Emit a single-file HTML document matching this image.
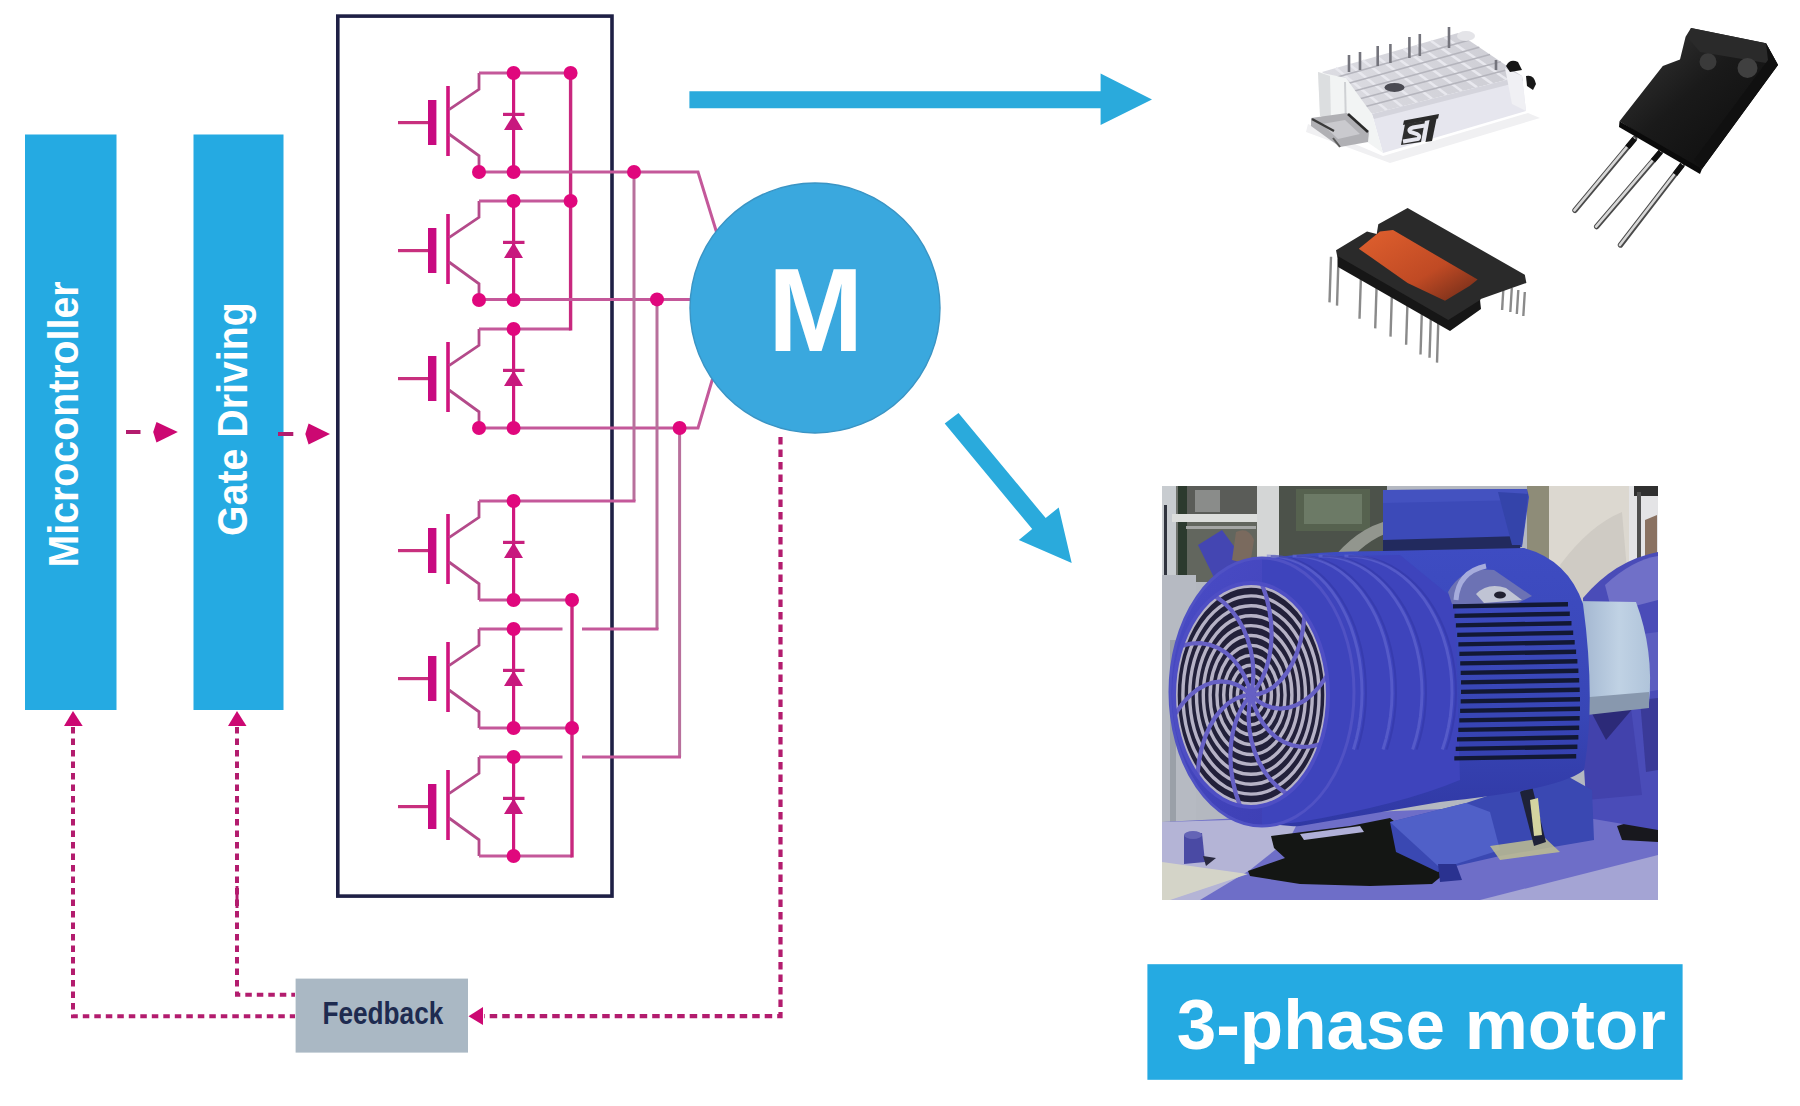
<!DOCTYPE html>
<html><head><meta charset="utf-8">
<style>
html,body{margin:0;padding:0;background:#fff;}
body{width:1800px;height:1106px;overflow:hidden;position:relative;font-family:"Liberation Sans",sans-serif;}
svg{position:absolute;left:0;top:0;}
</style></head><body>
<svg width="1800" height="1106" viewBox="0 0 1800 1106">
<defs>
</defs>
<!-- blue boxes -->
<rect x="25" y="134.5" width="91.5" height="575.5" fill="#25aae2"/>
<rect x="193.5" y="134.5" width="90" height="575.5" fill="#25aae2"/>
<text transform="translate(77.5,567.5) rotate(-90) scale(0.925,1)" font-family="Liberation Sans" font-weight="bold" font-size="42.5" fill="#fff">Microcontroller</text>
<text transform="translate(247,536) rotate(-90) scale(0.925,1)" font-family="Liberation Sans" font-weight="bold" font-size="42.5" fill="#fff">Gate Driving</text>
<!-- dashed arrows -->
<line x1="126" y1="432" x2="140.5" y2="432" stroke="#b31c6e" stroke-width="4"/>
<polygon points="156.5,421.9 177.8,432 156.5,442.4 153.2,432" fill="#cc0872"/>
<line x1="278" y1="434" x2="293.3" y2="434" stroke="#b31c6e" stroke-width="4"/>
<polygon points="308.6,423.6 330,434 308.6,444.5 305.3,434" fill="#cc0872"/>
<!-- box -->
<rect x="337.8" y="16.1" width="274.2" height="880" fill="none" stroke="#1e2045" stroke-width="3.6"/>
<line x1="398" y1="122.6" x2="430" y2="122.6" stroke="#c8307e" stroke-width="3.2"/>
<rect x="428" y="100" width="8.4" height="45" fill="#c80a80"/>
<line x1="448" y1="86" x2="448" y2="156" stroke="#d0147e" stroke-width="3.6"/>
<polyline points="449,109.7 479,89.3 479,73" fill="none" stroke="#b44a8a" stroke-width="2.8"/>
<polyline points="449,134 479,155.8 479,172" fill="none" stroke="#b44a8a" stroke-width="2.8"/>
<line x1="513.6" y1="73" x2="513.6" y2="172" stroke="#d0187e" stroke-width="3.2"/>
<line x1="503" y1="114.4" x2="524.5" y2="114.4" stroke="#c8207e" stroke-width="3.2"/>
<polygon points="513.6,114.4 504,130 523,130" fill="#c8187e"/>
<line x1="398" y1="250.6" x2="430" y2="250.6" stroke="#c8307e" stroke-width="3.2"/>
<rect x="428" y="228" width="8.4" height="45" fill="#c80a80"/>
<line x1="448" y1="214" x2="448" y2="284" stroke="#d0147e" stroke-width="3.6"/>
<polyline points="449,237.7 479,217.3 479,201" fill="none" stroke="#b44a8a" stroke-width="2.8"/>
<polyline points="449,262 479,283.8 479,300" fill="none" stroke="#b44a8a" stroke-width="2.8"/>
<line x1="513.6" y1="201" x2="513.6" y2="300" stroke="#d0187e" stroke-width="3.2"/>
<line x1="503" y1="242.4" x2="524.5" y2="242.4" stroke="#c8207e" stroke-width="3.2"/>
<polygon points="513.6,242.4 504,258 523,258" fill="#c8187e"/>
<line x1="398" y1="378.6" x2="430" y2="378.6" stroke="#c8307e" stroke-width="3.2"/>
<rect x="428" y="356" width="8.4" height="45" fill="#c80a80"/>
<line x1="448" y1="342" x2="448" y2="412" stroke="#d0147e" stroke-width="3.6"/>
<polyline points="449,365.7 479,345.3 479,329" fill="none" stroke="#b44a8a" stroke-width="2.8"/>
<polyline points="449,390 479,411.8 479,428" fill="none" stroke="#b44a8a" stroke-width="2.8"/>
<line x1="513.6" y1="329" x2="513.6" y2="428" stroke="#d0187e" stroke-width="3.2"/>
<line x1="503" y1="370.4" x2="524.5" y2="370.4" stroke="#c8207e" stroke-width="3.2"/>
<polygon points="513.6,370.4 504,386 523,386" fill="#c8187e"/>
<line x1="398" y1="550.6" x2="430" y2="550.6" stroke="#c8307e" stroke-width="3.2"/>
<rect x="428" y="528" width="8.4" height="45" fill="#c80a80"/>
<line x1="448" y1="514" x2="448" y2="584" stroke="#d0147e" stroke-width="3.6"/>
<polyline points="449,537.7 479,517.3 479,501" fill="none" stroke="#b44a8a" stroke-width="2.8"/>
<polyline points="449,562 479,583.8 479,600" fill="none" stroke="#b44a8a" stroke-width="2.8"/>
<line x1="513.6" y1="501" x2="513.6" y2="600" stroke="#d0187e" stroke-width="3.2"/>
<line x1="503" y1="542.4" x2="524.5" y2="542.4" stroke="#c8207e" stroke-width="3.2"/>
<polygon points="513.6,542.4 504,558 523,558" fill="#c8187e"/>
<line x1="398" y1="678.6" x2="430" y2="678.6" stroke="#c8307e" stroke-width="3.2"/>
<rect x="428" y="656" width="8.4" height="45" fill="#c80a80"/>
<line x1="448" y1="642" x2="448" y2="712" stroke="#d0147e" stroke-width="3.6"/>
<polyline points="449,665.7 479,645.3 479,629" fill="none" stroke="#b44a8a" stroke-width="2.8"/>
<polyline points="449,690 479,711.8 479,728" fill="none" stroke="#b44a8a" stroke-width="2.8"/>
<line x1="513.6" y1="629" x2="513.6" y2="728" stroke="#d0187e" stroke-width="3.2"/>
<line x1="503" y1="670.4" x2="524.5" y2="670.4" stroke="#c8207e" stroke-width="3.2"/>
<polygon points="513.6,670.4 504,686 523,686" fill="#c8187e"/>
<line x1="398" y1="806.6" x2="430" y2="806.6" stroke="#c8307e" stroke-width="3.2"/>
<rect x="428" y="784" width="8.4" height="45" fill="#c80a80"/>
<line x1="448" y1="770" x2="448" y2="840" stroke="#d0147e" stroke-width="3.6"/>
<polyline points="449,793.7 479,773.3 479,757" fill="none" stroke="#b44a8a" stroke-width="2.8"/>
<polyline points="449,818 479,839.8 479,856" fill="none" stroke="#b44a8a" stroke-width="2.8"/>
<line x1="513.6" y1="757" x2="513.6" y2="856" stroke="#d0187e" stroke-width="3.2"/>
<line x1="503" y1="798.4" x2="524.5" y2="798.4" stroke="#c8207e" stroke-width="3.2"/>
<polygon points="513.6,798.4 504,814 523,814" fill="#c8187e"/>
<line x1="479" y1="73" x2="570.6" y2="73" stroke="#c4589a" stroke-width="3"/>
<line x1="479" y1="201" x2="570.6" y2="201" stroke="#c4589a" stroke-width="3"/>
<line x1="479" y1="329" x2="570.6" y2="329" stroke="#c4589a" stroke-width="3"/>
<line x1="570.6" y1="73" x2="570.6" y2="330.5" stroke="#c8287e" stroke-width="3.4"/>
<polyline points="479,172 698,172 716.5,232" fill="none" stroke="#c4589a" stroke-width="3" stroke-linejoin="miter"/>
<line x1="479" y1="299.4" x2="700" y2="299.4" stroke="#c4589a" stroke-width="3"/>
<polyline points="479,428 698,428 712.5,379" fill="none" stroke="#c4589a" stroke-width="3" stroke-linejoin="miter"/>
<line x1="634" y1="172" x2="634" y2="501" stroke="#b8709c" stroke-width="3"/>
<line x1="479" y1="501" x2="635.5" y2="501" stroke="#c4589a" stroke-width="3"/>
<line x1="657" y1="299.4" x2="657" y2="629" stroke="#b8709c" stroke-width="3"/>
<line x1="582" y1="629" x2="658.5" y2="629" stroke="#c4589a" stroke-width="3"/>
<line x1="479" y1="629" x2="562.5" y2="629" stroke="#c4589a" stroke-width="3"/>
<line x1="679.6" y1="428" x2="679.6" y2="757" stroke="#b8709c" stroke-width="3"/>
<line x1="582" y1="757" x2="681" y2="757" stroke="#c4589a" stroke-width="3"/>
<line x1="479" y1="757" x2="562.5" y2="757" stroke="#c4589a" stroke-width="3"/>
<line x1="479" y1="600" x2="572" y2="600" stroke="#c4589a" stroke-width="3"/>
<line x1="479" y1="728" x2="572" y2="728" stroke="#c4589a" stroke-width="3"/>
<line x1="479" y1="856" x2="572" y2="856" stroke="#c4589a" stroke-width="3"/>
<line x1="572" y1="600" x2="572" y2="857.5" stroke="#c8287e" stroke-width="3.4"/>
<circle cx="513.6" cy="73" r="7" fill="#e0077d"/>
<circle cx="513.6" cy="172" r="7" fill="#e0077d"/>
<circle cx="513.6" cy="201" r="7" fill="#e0077d"/>
<circle cx="513.6" cy="300" r="7" fill="#e0077d"/>
<circle cx="513.6" cy="329" r="7" fill="#e0077d"/>
<circle cx="513.6" cy="428" r="7" fill="#e0077d"/>
<circle cx="513.6" cy="501" r="7" fill="#e0077d"/>
<circle cx="513.6" cy="600" r="7" fill="#e0077d"/>
<circle cx="513.6" cy="629" r="7" fill="#e0077d"/>
<circle cx="513.6" cy="728" r="7" fill="#e0077d"/>
<circle cx="513.6" cy="757" r="7" fill="#e0077d"/>
<circle cx="513.6" cy="856" r="7" fill="#e0077d"/>
<circle cx="479" cy="172" r="7" fill="#e0077d"/>
<circle cx="479" cy="300" r="7" fill="#e0077d"/>
<circle cx="479" cy="428" r="7" fill="#e0077d"/>
<circle cx="570.6" cy="73" r="7" fill="#e0077d"/>
<circle cx="570.6" cy="201" r="7" fill="#e0077d"/>
<circle cx="634" cy="172" r="7" fill="#e0077d"/>
<circle cx="657" cy="299.4" r="7" fill="#e0077d"/>
<circle cx="679.6" cy="428" r="7" fill="#e0077d"/>
<circle cx="572" cy="600" r="7" fill="#e0077d"/>
<circle cx="572" cy="728" r="7" fill="#e0077d"/>
<!-- motor circle -->
<circle cx="815" cy="308" r="125" fill="#3aa8de" stroke="#3a94c4" stroke-width="1.4"/>
<text transform="translate(815.7,351) scale(0.965,1)" text-anchor="middle" font-family="Liberation Sans" font-weight="bold" font-size="118.6" fill="#fff">M</text>
<!-- blue arrows -->
<polygon points="689.4,91.2 1100.6,91.2 1100.6,73.6 1152,99.5 1100.6,125 1100.6,108.2 689.4,108.2" fill="#2aaadc"/>
<polygon points="958.5,413 944.7,423.6 1032.2,529.1 1018.8,540 1071.7,562.9 1058.7,507.5 1045.7,518.1" fill="#2aaadc"/>
<!-- feedback -->
<path d="M780.5,437 V1016.2 H484" fill="none" stroke="#b31c6e" stroke-width="4.2" stroke-dasharray="7.5 5"/>
<polygon points="468.5,1016.2 483,1007 483,1025" fill="#cc0872"/>
<path d="M73,727 V1016.2 H295" fill="none" stroke="#b31c6e" stroke-width="4" stroke-dasharray="6.5 5"/>
<polygon points="73,711 64,726 82.7,726" fill="#cc0872"/>
<path d="M237,727 V994.7 H295" fill="none" stroke="#b31c6e" stroke-width="4" stroke-dasharray="6.5 5"/>
<line x1="237" y1="886" x2="237" y2="908" stroke="#b31c6e" stroke-width="3"/>
<polygon points="237,711 228,726 246.5,726" fill="#cc0872"/>
<rect x="295.6" y="978.6" width="172.4" height="74" fill="#aab8c4"/>
<text transform="translate(382.85,1024.4) scale(0.819,1)" text-anchor="middle" font-family="Liberation Sans" font-weight="bold" font-size="32" fill="#1e2b50">Feedback</text>
<clipPath id="mclip"><rect x="1162" y="486" width="496" height="414"/></clipPath>
<linearGradient id="bodyg" x1="0" y1="0" x2="0" y2="1">
<stop offset="0" stop-color="#3e4cc2"/><stop offset="0.6" stop-color="#3846b6"/><stop offset="1" stop-color="#3038a4"/></linearGradient>
<linearGradient id="coverg" x1="0" y1="0" x2="1" y2="1">
<stop offset="0" stop-color="#4a4cc6"/><stop offset="1" stop-color="#3a3cb0"/></linearGradient>
<linearGradient id="coupg" x1="0" y1="0" x2="1" y2="0">
<stop offset="0" stop-color="#9cb0cc"/><stop offset="0.6" stop-color="#c0d2e4"/><stop offset="1" stop-color="#b0c4da"/></linearGradient>
<g clip-path="url(#mclip)">
<rect x="1162" y="486" width="496" height="414" fill="#b4b8c0"/>
<rect x="1162" y="486" width="225" height="95" fill="#70746e"/>
<rect x="1162" y="486" width="14" height="360" fill="#c8ccd0"/>
<rect x="1164" y="505" width="3" height="320" fill="#30343e"/>
<rect x="1178" y="486" width="9" height="140" fill="#2c3a2e"/>
<rect x="1187" y="486" width="70" height="28" fill="#5a5c58"/>
<rect x="1195" y="490" width="25" height="22" fill="#8a8c8a"/>
<rect x="1172" y="514" width="86" height="8" fill="#dcdedc"/>
<rect x="1187" y="522" width="70" height="60" fill="#62665e"/>
<rect x="1186" y="526" width="70" height="3" fill="#a4a6a4"/>
<rect x="1257" y="486" width="22" height="90" fill="#d4d6d6"/>
<rect x="1279" y="486" width="108" height="90" fill="#4c524a"/>
<rect x="1296" y="489" width="74" height="42" fill="#56624f"/>
<rect x="1304" y="494" width="58" height="30" fill="#6c7a66"/>
<path d="M1198,545 L1222,530 L1250,568 L1224,598 Z" fill="#4446b2"/>
<path d="M1236,532 q12,-6 18,8 l-4,25 l-18,-5 Z" fill="#7a6a5e"/>
<path d="M1330,562 Q1356,528 1390,520 L1390,532 Q1366,540 1344,566 Z" fill="#92968e"/>
<rect x="1527" y="486" width="24" height="125" fill="#8e8c78"/>
<rect x="1549" y="486" width="82" height="125" fill="#dcd8d0"/>
<path d="M1560,565 Q1590,525 1622,512 L1630,605 L1570,608 Z" fill="#cfcbc4"/>
<rect x="1629" y="486" width="30" height="95" fill="#e4e4e6"/>
<rect x="1634" y="486" width="24" height="10" fill="#303030"/>
<rect x="1637" y="492" width="4" height="80" fill="#505050"/>
<path d="M1645,520 l12,-5 l0,50 l-12,0 Z" fill="#8a7262"/>
<rect x="1162" y="575" width="34" height="270" fill="#b6bac2"/>
<rect x="1170" y="640" width="6" height="190" fill="#9aa0a8"/>
<path d="M1162,822 L1300,815 L1658,800 L1658,900 L1162,900 Z" fill="#6e6ec8"/>
<path d="M1162,822 L1300,818 L1290,838 L1250,870 L1200,900 L1162,900 Z" fill="#b4b4d6"/>
<path d="M1162,862 L1248,874 L1170,900 L1162,900 Z" fill="#d4d4c8"/>
<path d="M1480,900 L1658,855 L1658,900 Z" fill="#a4a4d4"/>
<path d="M1290,840 L1380,828 L1300,870 Z" fill="#9a9ad0"/>
<path d="M1271,836 L1350,826 L1390,818 L1425,845 L1454,866 L1432,884 L1370,886 L1300,884 L1250,876 L1248,871 L1285,858 L1274,848 Z" fill="#141614"/>
<path d="M1300,834 L1360,826 L1364,832 L1304,840 Z" fill="#b0b0d8"/>
<path d="M1617,826 L1658,814 L1658,842 L1622,840 Z" fill="#18181e"/>
<path d="M1184,835 L1202,833 L1205,862 L1184,864 Z" fill="#4a4aa4"/>
<ellipse cx="1193" cy="835" rx="9" ry="4" fill="#6464b6"/>
<path d="M1203,856 L1216,858 L1206,866 Z" fill="#2a2a40"/>
<path d="M1583,598 Q1615,560 1658,552 L1658,830 L1588,818 Z" fill="#4a4cb8"/>
<path d="M1605,585 Q1632,560 1658,556 L1658,600 L1612,612 Z" fill="#7070c8"/>
<path d="M1596,640 L1658,632 L1658,690 L1600,700 Z" fill="#5c5ec0"/>
<path d="M1580,704 L1630,700 L1642,795 L1586,800 Z" fill="#4242ac"/>
<path d="M1588,706 L1640,700 L1606,740 Z" fill="#2c2a78"/>
<path d="M1640,700 L1658,698 L1658,770 L1646,772 Z" fill="#3a3a98"/>
<path d="M1390,822 L1466,803 L1560,772 L1592,790 L1594,840 L1500,856 L1456,866 L1438,872 L1396,852 Z" fill="#3a48b2"/>
<path d="M1390,822 L1466,803 L1490,812 L1500,850 L1456,864 L1438,866 Z" fill="#5060c8"/>
<path d="M1438,864 L1456,864 L1462,880 L1440,882 Z" fill="#2a3290"/>
<path d="M1490,846 L1545,838 L1560,852 L1500,860 Z" fill="#c0c090" opacity="0.85"/>
<path d="M1520,792 L1532,786 L1546,842 L1534,846 Z" fill="#1e2238"/>
<path d="M1530,800 L1538,798 L1542,835 L1534,836 Z" fill="#d4d4a0"/>
<path d="M1576,601 L1636,602 Q1654,650 1649,703 L1578,710 Q1568,655 1576,601 Z" fill="url(#coupg)"/>
<path d="M1578,698 L1649,692 L1649,708 L1578,716 Z" fill="#8898ae"/>
<path d="M1383,490 L1527,489 L1529,497 L1522,547 L1383,551 Z" fill="#3c4ab8"/>
<path d="M1383,490 L1527,489 L1527,500 L1383,503 Z" fill="#4452c0"/>
<path d="M1383,540 L1522,536 L1520,549 L1383,555 Z" fill="#222a5e"/>
<path d="M1498,492 L1528,494 L1522,545 L1512,545 Z" fill="#3444aa"/>
<path d="M1190,640 Q1210,580 1260,560 Q1310,551 1383,551 L1524,548 Q1568,560 1583,604 Q1596,700 1584,770 Q1560,790 1440,802 L1300,826 Q1240,830 1200,760 Z" fill="url(#bodyg)"/>
<ellipse cx="1262" cy="692" rx="92" ry="134" fill="url(#coverg)"/>
<path d="M1262,558 Q1330,556 1400,555 L1455,600 L1460,780 Q1400,805 1300,822 L1262,826 Z" fill="#3e44bc"/>
<path d="M1266.8,556.1 L1274.6,556.2 L1282.4,557.2 L1290.1,559.3 L1297.7,562.3 L1305.0,566.2 L1312.1,571.1 L1318.9,576.8 L1325.4,583.4 L1331.4,590.7 L1337.0,598.8 L1342.1,607.6 L1346.7,616.9 L1350.8,626.8 L1354.2,637.2 L1357.1,648.0 L1359.3,659.1 L1360.8,670.4 L1361.7,681.9 L1362.0,693.5 L1361.6,705.0 L1360.5,716.5 L1358.8,727.8 L1356.4,738.8 L1353.4,749.5" fill="none" stroke="#6c70d6" stroke-width="3" opacity="0.5"/>
<path d="M1270.8,556.1 L1278.6,556.2 L1286.4,557.2 L1294.1,559.3 L1301.7,562.3 L1309.0,566.2 L1316.1,571.1 L1322.9,576.8 L1329.4,583.4 L1335.4,590.7 L1341.0,598.8 L1346.1,607.6 L1350.7,616.9 L1354.8,626.8 L1358.2,637.2 L1361.1,648.0 L1363.3,659.1 L1364.8,670.4 L1365.7,681.9 L1366.0,693.5 L1365.6,705.0 L1364.5,716.5 L1362.8,727.8 L1360.4,738.8 L1357.4,749.5" fill="none" stroke="#2e34a0" stroke-width="2" opacity="0.45"/>
<path d="M1292.6,556.1 L1300.8,556.2 L1308.9,557.2 L1317.0,559.3 L1324.9,562.3 L1332.5,566.2 L1340.0,571.1 L1347.0,576.8 L1353.8,583.4 L1360.1,590.7 L1365.9,598.8 L1371.3,607.6 L1376.1,616.9 L1380.3,626.8 L1383.9,637.2 L1386.8,648.0 L1389.1,659.1 L1390.8,670.4 L1391.7,681.9 L1392.0,693.5 L1391.6,705.0 L1390.4,716.5 L1388.6,727.8 L1386.1,738.8 L1383.0,749.5" fill="none" stroke="#6c70d6" stroke-width="3" opacity="0.5"/>
<path d="M1296.6,556.1 L1304.8,556.2 L1312.9,557.2 L1321.0,559.3 L1328.9,562.3 L1336.5,566.2 L1344.0,571.1 L1351.0,576.8 L1357.8,583.4 L1364.1,590.7 L1369.9,598.8 L1375.3,607.6 L1380.1,616.9 L1384.3,626.8 L1387.9,637.2 L1390.8,648.0 L1393.1,659.1 L1394.8,670.4 L1395.7,681.9 L1396.0,693.5 L1395.6,705.0 L1394.4,716.5 L1392.6,727.8 L1390.1,738.8 L1387.0,749.5" fill="none" stroke="#2e34a0" stroke-width="2" opacity="0.45"/>
<path d="M1318.5,556.1 L1327.0,556.2 L1335.5,557.2 L1343.9,559.3 L1352.1,562.3 L1360.1,566.2 L1367.8,571.1 L1375.2,576.8 L1382.2,583.4 L1388.8,590.7 L1394.8,598.8 L1400.4,607.6 L1405.4,616.9 L1409.8,626.8 L1413.5,637.2 L1416.6,648.0 L1419.0,659.1 L1420.7,670.4 L1421.7,681.9 L1422.0,693.5 L1421.5,705.0 L1420.4,716.5 L1418.5,727.8 L1415.9,738.8 L1412.6,749.5" fill="none" stroke="#6c70d6" stroke-width="3" opacity="0.5"/>
<path d="M1322.5,556.1 L1331.0,556.2 L1339.5,557.2 L1347.9,559.3 L1356.1,562.3 L1364.1,566.2 L1371.8,571.1 L1379.2,576.8 L1386.2,583.4 L1392.8,590.7 L1398.8,598.8 L1404.4,607.6 L1409.4,616.9 L1413.8,626.8 L1417.5,637.2 L1420.6,648.0 L1423.0,659.1 L1424.7,670.4 L1425.7,681.9 L1426.0,693.5 L1425.5,705.0 L1424.4,716.5 L1422.5,727.8 L1419.9,738.8 L1416.6,749.5" fill="none" stroke="#2e34a0" stroke-width="2" opacity="0.45"/>
<path d="M1344.4,556.1 L1353.2,556.2 L1362.0,557.2 L1370.7,559.3 L1379.3,562.3 L1387.6,566.2 L1395.6,571.1 L1403.3,576.8 L1410.6,583.4 L1417.4,590.7 L1423.8,598.8 L1429.5,607.6 L1434.7,616.9 L1439.3,626.8 L1443.2,637.2 L1446.4,648.0 L1448.9,659.1 L1450.7,670.4 L1451.7,681.9 L1452.0,693.5 L1451.5,705.0 L1450.3,716.5 L1448.3,727.8 L1445.7,738.8 L1442.3,749.5" fill="none" stroke="#6c70d6" stroke-width="3" opacity="0.5"/>
<path d="M1348.4,556.1 L1357.2,556.2 L1366.0,557.2 L1374.7,559.3 L1383.3,562.3 L1391.6,566.2 L1399.6,571.1 L1407.3,576.8 L1414.6,583.4 L1421.4,590.7 L1427.8,598.8 L1433.5,607.6 L1438.7,616.9 L1443.3,626.8 L1447.2,637.2 L1450.4,648.0 L1452.9,659.1 L1454.7,670.4 L1455.7,681.9 L1456.0,693.5 L1455.5,705.0 L1454.3,716.5 L1452.3,727.8 L1449.7,738.8 L1446.3,749.5" fill="none" stroke="#2e34a0" stroke-width="2" opacity="0.45"/>
<ellipse cx="1262" cy="692" rx="92" ry="134" fill="none" stroke="#5052c4" stroke-width="3"/>
<path d="M1448,592 Q1462,566 1494,570 L1532,596 L1516,604 L1452,604 Z" fill="#6c72b4"/>
<path d="M1476,594 Q1488,582 1506,588 L1522,600 L1484,603 Z" fill="#c0c4d4"/>
<path d="M1456,600 Q1458,572 1486,566" fill="none" stroke="#a6acdc" stroke-width="5"/>
<ellipse cx="1500" cy="595" rx="6" ry="3.5" fill="#202030"/>
<path d="M1453.0,604.2 L1568.0,602.0 L1568.0,606.6 L1453.0,608.4 Z" fill="#121834"/>
<path d="M1454.5,613.7 L1569.8,611.5 L1569.8,616.1 L1454.5,617.9 Z" fill="#121834"/>
<path d="M1455.9,623.2 L1571.5,621.0 L1571.5,625.6 L1455.9,627.4 Z" fill="#121834"/>
<path d="M1457.2,632.7 L1573.2,630.5 L1573.2,635.1 L1457.2,636.9 Z" fill="#121834"/>
<path d="M1458.4,642.2 L1574.7,640.0 L1574.7,644.6 L1458.4,646.4 Z" fill="#121834"/>
<path d="M1459.4,651.7 L1576.1,649.5 L1576.1,654.1 L1459.4,655.9 Z" fill="#121834"/>
<path d="M1460.2,661.2 L1577.4,659.0 L1577.4,663.6 L1460.2,665.4 Z" fill="#121834"/>
<path d="M1460.7,670.7 L1578.4,668.5 L1578.4,673.1 L1460.7,674.9 Z" fill="#121834"/>
<path d="M1461.0,680.2 L1579.2,678.0 L1579.2,682.6 L1461.0,684.4 Z" fill="#121834"/>
<path d="M1461.0,689.7 L1579.7,687.5 L1579.7,692.1 L1461.0,693.9 Z" fill="#121834"/>
<path d="M1460.7,699.2 L1580.0,697.0 L1580.0,701.6 L1460.7,703.4 Z" fill="#121834"/>
<path d="M1460.1,708.7 L1580.0,706.5 L1580.0,711.1 L1460.1,712.9 Z" fill="#121834"/>
<path d="M1459.3,718.2 L1579.7,716.0 L1579.7,720.6 L1459.3,722.4 Z" fill="#121834"/>
<path d="M1458.3,727.7 L1579.2,725.5 L1579.2,730.1 L1458.3,731.9 Z" fill="#121834"/>
<path d="M1457.0,737.2 L1578.4,735.0 L1578.4,739.6 L1457.0,741.4 Z" fill="#121834"/>
<path d="M1455.7,746.7 L1577.4,744.5 L1577.4,749.1 L1455.7,750.9 Z" fill="#121834"/>
<path d="M1454.3,756.2 L1576.2,754.0 L1576.2,758.6 L1454.3,760.4 Z" fill="#121834"/>
<ellipse cx="1251" cy="695" rx="77" ry="112" fill="#22203a"/>
<ellipse cx="1251" cy="695" rx="6.8" ry="9.9" fill="none" stroke="#b6b2c6" stroke-width="3.4"/>
<ellipse cx="1251" cy="695" rx="13.6" ry="19.8" fill="none" stroke="#b6b2c6" stroke-width="3.4"/>
<ellipse cx="1251" cy="695" rx="20.4" ry="29.7" fill="none" stroke="#b6b2c6" stroke-width="3.4"/>
<ellipse cx="1251" cy="695" rx="27.3" ry="39.6" fill="none" stroke="#b6b2c6" stroke-width="3.4"/>
<ellipse cx="1251" cy="695" rx="34.1" ry="49.6" fill="none" stroke="#b6b2c6" stroke-width="3.4"/>
<ellipse cx="1251" cy="695" rx="40.9" ry="59.5" fill="none" stroke="#b6b2c6" stroke-width="3.4"/>
<ellipse cx="1251" cy="695" rx="47.7" ry="69.4" fill="none" stroke="#b6b2c6" stroke-width="3.4"/>
<ellipse cx="1251" cy="695" rx="54.5" ry="79.3" fill="none" stroke="#b6b2c6" stroke-width="3.4"/>
<ellipse cx="1251" cy="695" rx="61.3" ry="89.2" fill="none" stroke="#b6b2c6" stroke-width="3.4"/>
<ellipse cx="1251" cy="695" rx="68.1" ry="99.1" fill="none" stroke="#b6b2c6" stroke-width="3.4"/>
<ellipse cx="1251" cy="695" rx="75.0" ry="109.0" fill="none" stroke="#b6b2c6" stroke-width="3.4"/>
<path d="M1251.0,695.0 L1258.7,694.1 L1266.2,691.4 L1273.4,687.0 L1280.2,680.9 L1286.5,673.2 L1292.0,664.0 L1296.7,653.4 L1300.4,641.5 L1303.1,628.5 L1304.6,614.7" fill="none" stroke="#6660c4" stroke-width="4.2"/>
<path d="M1251.0,695.0 L1257.6,700.8 L1264.7,705.1 L1272.4,707.7 L1280.3,708.6 L1288.5,707.7 L1296.7,704.9 L1304.8,700.4 L1312.6,694.0 L1320.0,685.8 L1326.9,675.9" fill="none" stroke="#6660c4" stroke-width="4.2"/>
<path d="M1251.0,695.0 L1254.0,705.3 L1258.0,714.9 L1263.2,723.6 L1269.2,731.1 L1276.2,737.3 L1284.0,742.1 L1292.3,745.3 L1301.3,746.8 L1310.6,746.5 L1320.1,744.4" fill="none" stroke="#6660c4" stroke-width="4.2"/>
<path d="M1251.0,695.0 L1249.2,705.9 L1248.6,717.1 L1249.3,728.5 L1251.2,739.8 L1254.3,750.8 L1258.6,761.3 L1264.1,771.0 L1270.7,779.9 L1278.4,787.6 L1287.0,794.0" fill="none" stroke="#6660c4" stroke-width="4.2"/>
<path d="M1251.0,695.0 L1245.2,702.3 L1240.1,710.9 L1236.1,720.6 L1233.0,731.4 L1231.1,743.0 L1230.4,755.1 L1230.9,767.7 L1232.7,780.5 L1235.7,793.3 L1240.1,805.9" fill="none" stroke="#6660c4" stroke-width="4.2"/>
<path d="M1251.0,695.0 L1243.3,695.9 L1235.8,698.6 L1228.6,703.0 L1221.8,709.1 L1215.5,716.8 L1210.0,726.0 L1205.3,736.6 L1201.6,748.5 L1198.9,761.5 L1197.4,775.3" fill="none" stroke="#6660c4" stroke-width="4.2"/>
<path d="M1251.0,695.0 L1244.4,689.2 L1237.3,684.9 L1229.6,682.3 L1221.7,681.4 L1213.5,682.3 L1205.3,685.1 L1197.2,689.6 L1189.4,696.0 L1182.0,704.2 L1175.1,714.1" fill="none" stroke="#6660c4" stroke-width="4.2"/>
<path d="M1251.0,695.0 L1248.0,684.7 L1244.0,675.1 L1238.8,666.4 L1232.8,658.9 L1225.8,652.7 L1218.0,647.9 L1209.7,644.7 L1200.7,643.2 L1191.4,643.5 L1181.9,645.6" fill="none" stroke="#6660c4" stroke-width="4.2"/>
<path d="M1251.0,695.0 L1252.8,684.1 L1253.4,672.9 L1252.7,661.5 L1250.8,650.2 L1247.7,639.2 L1243.4,628.7 L1237.9,619.0 L1231.3,610.1 L1223.6,602.4 L1215.0,596.0" fill="none" stroke="#6660c4" stroke-width="4.2"/>
<path d="M1251.0,695.0 L1256.8,687.7 L1261.9,679.1 L1265.9,669.4 L1269.0,658.6 L1270.9,647.0 L1271.6,634.9 L1271.1,622.3 L1269.3,609.5 L1266.3,596.7 L1261.9,584.1" fill="none" stroke="#6660c4" stroke-width="4.2"/>
<ellipse cx="1251" cy="695" rx="77" ry="112" fill="none" stroke="#4e4ec4" stroke-width="4"/>
</g>
<defs>
<linearGradient id="to247" x1="0" y1="0" x2="1" y2="1">
<stop offset="0" stop-color="#3a3a3a"/><stop offset="0.45" stop-color="#1a1a1a"/><stop offset="1" stop-color="#0a0a0a"/></linearGradient>
<linearGradient id="lead" x1="0" y1="0" x2="1" y2="0">
<stop offset="0" stop-color="#6a6a6a"/><stop offset="0.5" stop-color="#e8e8e8"/><stop offset="1" stop-color="#7a7a7a"/></linearGradient>
<linearGradient id="orng" x1="0" y1="0" x2="1" y2="1">
<stop offset="0" stop-color="#e0602e"/><stop offset="0.6" stop-color="#c04a24"/><stop offset="1" stop-color="#6a2a18"/></linearGradient>
<linearGradient id="wtop" x1="0" y1="0" x2="1" y2="0">
<stop offset="0" stop-color="#dcdce2"/><stop offset="1" stop-color="#cdcdd4"/></linearGradient>
</defs>
<g>
<path d="M1308,124 L1383,156 L1528,113 L1540,118 L1390,163 L1306,132 Z" fill="#f0f0f2"/>
<polygon points="1322,72 1458,33 1522,76 1372,114" fill="url(#wtop)"/>
<line x1="1335.6" y1="68.1" x2="1387.0" y2="110.2" stroke="#e8e8ee" stroke-width="2.6"/>
<line x1="1349.2" y1="64.2" x2="1402.0" y2="106.4" stroke="#e8e8ee" stroke-width="2.6"/>
<line x1="1362.8" y1="60.3" x2="1417.0" y2="102.6" stroke="#e8e8ee" stroke-width="2.6"/>
<line x1="1376.4" y1="56.4" x2="1432.0" y2="98.8" stroke="#e8e8ee" stroke-width="2.6"/>
<line x1="1390.0" y1="52.5" x2="1447.0" y2="95.0" stroke="#e8e8ee" stroke-width="2.6"/>
<line x1="1403.6" y1="48.6" x2="1462.0" y2="91.2" stroke="#e8e8ee" stroke-width="2.6"/>
<line x1="1417.2" y1="44.7" x2="1477.0" y2="87.4" stroke="#e8e8ee" stroke-width="2.6"/>
<line x1="1430.8" y1="40.8" x2="1492.0" y2="83.6" stroke="#e8e8ee" stroke-width="2.6"/>
<line x1="1444.4" y1="36.9" x2="1507.0" y2="79.8" stroke="#e8e8ee" stroke-width="2.6"/>
<line x1="1330.3" y1="79.0" x2="1468.7" y2="40.2" stroke="#b4b4bc" stroke-width="1.6"/>
<line x1="1338.7" y1="86.0" x2="1479.3" y2="47.3" stroke="#b4b4bc" stroke-width="1.6"/>
<line x1="1347.0" y1="93.0" x2="1490.0" y2="54.5" stroke="#b4b4bc" stroke-width="1.6"/>
<line x1="1355.3" y1="100.0" x2="1500.7" y2="61.7" stroke="#b4b4bc" stroke-width="1.6"/>
<line x1="1363.7" y1="107.0" x2="1511.3" y2="68.8" stroke="#b4b4bc" stroke-width="1.6"/>
<ellipse cx="1466" cy="36" rx="9" ry="5" fill="#e4e4e8"/>
<polygon points="1372,114 1522,76 1526,111 1383,153" fill="#e6e6ee"/>
<polygon points="1372,114 1522,76 1523,81 1374,119" fill="#d4d4dc"/>
<polygon points="1505,68 1522,76 1526,111 1512,104" fill="#f0f0f4"/>
<polygon points="1318,72 1346,78 1372,114 1383,153 1350,130 1320,116" fill="#f2f4f4"/>
<polygon points="1318,72 1330,76 1331,120 1320,116" fill="#dcdee0"/>
<line x1="1345" y1="82" x2="1346" y2="128" stroke="#cfd1d4" stroke-width="2"/>
<polygon points="1311,118 1347,113 1369,132 1368,142 1340,147 1311,126" fill="#b0b0b4"/>
<polygon points="1322,124 1345,120 1360,134 1338,139" fill="#cacace"/>
<line x1="1312" y1="119" x2="1334" y2="131" stroke="#3a3a3a" stroke-width="2.4"/>
<line x1="1348" y1="114" x2="1368" y2="132" stroke="#2a2a2a" stroke-width="2.6"/>
<line x1="1333" y1="138" x2="1340" y2="147" stroke="#5a5a5a" stroke-width="2"/>
<ellipse cx="1394.5" cy="87.4" rx="10" ry="4.5" fill="#4a4a52"/>
<line x1="1349" y1="55" x2="1349" y2="72" stroke="#74747c" stroke-width="2.6"/>
<line x1="1360" y1="52" x2="1360" y2="70" stroke="#74747c" stroke-width="2.6"/>
<line x1="1377.7" y1="46" x2="1377.7" y2="66" stroke="#74747c" stroke-width="2.6"/>
<line x1="1390.4" y1="44" x2="1390.4" y2="63" stroke="#74747c" stroke-width="2.6"/>
<line x1="1409.4" y1="37" x2="1409.4" y2="58" stroke="#74747c" stroke-width="2.6"/>
<line x1="1419.8" y1="34" x2="1419.8" y2="56" stroke="#74747c" stroke-width="2.6"/>
<line x1="1449" y1="27" x2="1449" y2="48" stroke="#74747c" stroke-width="2.6"/>
<line x1="1496" y1="60" x2="1496" y2="70" stroke="#74747c" stroke-width="2.6"/>
<path d="M1506,66 Q1510,58 1518,62 L1522,70 L1510,72 Z" fill="#151515"/>
<path d="M1526,76 Q1534,74 1536,84 L1533,90 L1527,86 Z" fill="#181818"/>
<polygon points="1404,120.5 1439,114 1438,118.5 1403,125" fill="#2a2a2a"/>
<polygon points="1405,124 1425,120.5 1421,142 1401,145" fill="#2e2e2e"/>
<path d="M1425,125.5 L1413,127.5 Q1407.5,129 1410.5,132 L1417,134 Q1421,136 1418,139 L1403,141.5" fill="none" stroke="#e6e6ee" stroke-width="4"/>
<polygon points="1430,117.5 1437,116.5 1432,141 1425.5,142" fill="#2a2a2a"/>
</g>
<g>
<line x1="1634.6" y1="138.7" x2="1575" y2="210.3" stroke="#4a4a4a" stroke-width="5.4" stroke-linecap="round"/>
<line x1="1634.0" y1="138.7" x2="1574.4" y2="210.3" stroke="#d8d8d8" stroke-width="2.6" stroke-linecap="round"/>
<line x1="1634.6" y1="138.7" x2="1627.4479999999999" y2="147.292" stroke="#101010" stroke-width="5.5"/>
<line x1="1660.7" y1="151.7" x2="1596.7" y2="226.6" stroke="#4a4a4a" stroke-width="5.4" stroke-linecap="round"/>
<line x1="1660.1000000000001" y1="151.7" x2="1596.1000000000001" y2="226.6" stroke="#d8d8d8" stroke-width="2.6" stroke-linecap="round"/>
<line x1="1660.7" y1="151.7" x2="1653.02" y2="160.688" stroke="#101010" stroke-width="5.5"/>
<line x1="1682.4" y1="164.7" x2="1620.5" y2="245" stroke="#4a4a4a" stroke-width="5.4" stroke-linecap="round"/>
<line x1="1681.8000000000002" y1="164.7" x2="1619.9" y2="245" stroke="#d8d8d8" stroke-width="2.6" stroke-linecap="round"/>
<line x1="1682.4" y1="164.7" x2="1674.972" y2="174.33599999999998" stroke="#101010" stroke-width="5.5"/>
<polygon points="1619.5,121.3 1662.8,66 1680,59.5 1685.6,36.7 1691,28 1766,43.2 1778,65 1702,169 1690,166" fill="url(#to247)"/>
<polygon points="1691,28 1766,43.2 1778,65 1700,52 1688,38" fill="#2a2a2a"/>
<polygon points="1766,43.2 1778,65 1702,169 1694,160 1768,60" fill="#101010"/>
<circle cx="1708" cy="61.7" r="8.5" fill="#3a3a3a"/>
<circle cx="1747.5" cy="68" r="10" fill="#404040"/>
<polygon points="1619.5,121.3 1702,169 1700,174 1619,127" fill="#0a0a0a"/>
</g>
<g>
<line x1="1331" y1="256.8" x2="1329.5" y2="302.4" stroke="#8a8a8a" stroke-width="2.4"/>
<line x1="1338.5" y1="258.5" x2="1337.0" y2="305.6" stroke="#8a8a8a" stroke-width="2.4"/>
<line x1="1361" y1="274.7" x2="1359.5" y2="318.7" stroke="#8a8a8a" stroke-width="2.4"/>
<line x1="1376.7" y1="282.9" x2="1375.2" y2="328.4" stroke="#8a8a8a" stroke-width="2.4"/>
<line x1="1392" y1="291" x2="1390.5" y2="336.6" stroke="#8a8a8a" stroke-width="2.4"/>
<line x1="1407.6" y1="299" x2="1406.1" y2="344.7" stroke="#8a8a8a" stroke-width="2.4"/>
<line x1="1422" y1="307.3" x2="1420.5" y2="354.5" stroke="#8a8a8a" stroke-width="2.4"/>
<line x1="1431" y1="312" x2="1429.5" y2="357.7" stroke="#8a8a8a" stroke-width="2.4"/>
<line x1="1438.5" y1="315.4" x2="1437.0" y2="362.6" stroke="#8a8a8a" stroke-width="2.4"/>
<line x1="1503.6" y1="285" x2="1502.1" y2="310" stroke="#8a8a8a" stroke-width="2.4"/>
<line x1="1511.8" y1="288" x2="1510.3" y2="312" stroke="#8a8a8a" stroke-width="2.4"/>
<line x1="1518.3" y1="290" x2="1516.8" y2="314" stroke="#8a8a8a" stroke-width="2.4"/>
<line x1="1524.8" y1="292" x2="1523.3" y2="316" stroke="#8a8a8a" stroke-width="2.4"/>
<polygon points="1336,250.3 1367,231.6 1376.7,234 1378.3,224.3 1407.6,208 1524.8,274.7 1526.4,282.9 1480.8,299 1479,302.4 1448.3,322 1337.7,258.5" fill="#2a2a2a"/>
<polygon points="1337.7,256 1448.3,320 1480,300 1481,309 1450,331 1338,267" fill="#161616"/>
<polygon points="1358.8,248.7 1380,231.6 1393,230 1477.6,279.6 1469.5,286 1445,300.8 1407.6,282.9" fill="url(#orng)"/>
</g>
<!-- label -->
<rect x="1147.4" y="964.2" width="535.2" height="115.6" fill="#25aae2"/>
<text x="1176.7" y="1049" font-family="Liberation Sans" font-weight="bold" font-size="71" fill="#fff">3-phase motor</text>
</svg>
</body></html>
